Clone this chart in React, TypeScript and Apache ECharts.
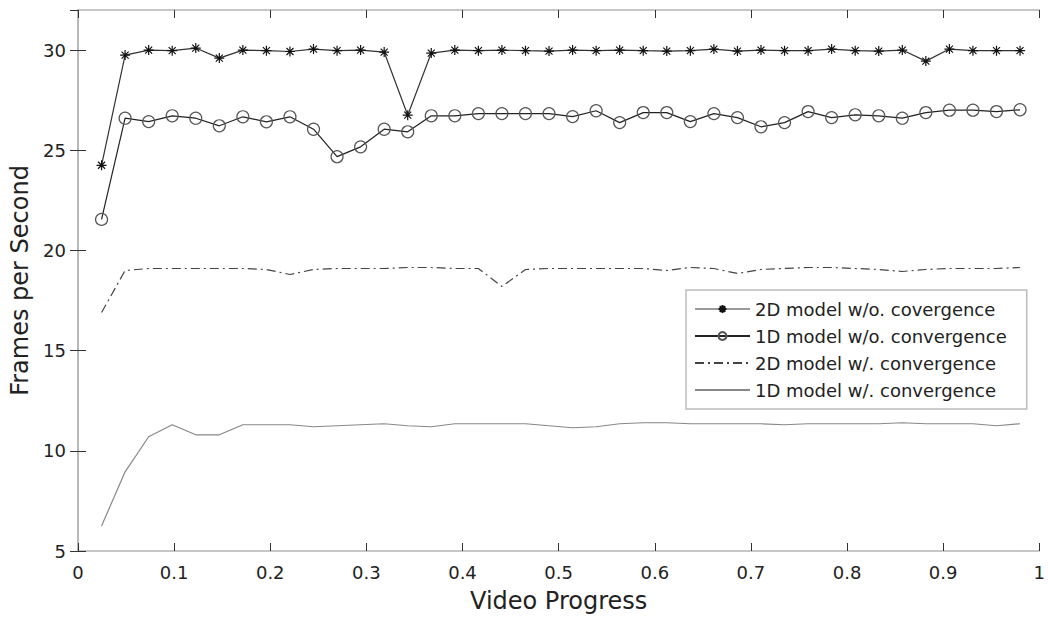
import React, { useEffect, useRef } from "react";
import * as echarts from "echarts";

const progress = [
  0.0245, 0.049, 0.0735, 0.098, 0.1225, 0.147, 0.1715, 0.196, 0.2205, 0.245,
  0.2695, 0.294, 0.3185, 0.343, 0.3675, 0.392, 0.4165, 0.441, 0.4655, 0.49,
  0.5145, 0.539, 0.5635, 0.588, 0.6125, 0.637, 0.6615, 0.686, 0.7105, 0.735,
  0.7595, 0.784, 0.8085, 0.833, 0.8575, 0.882, 0.9065, 0.931, 0.9555, 0.98,
];

const fps2dNoConv = [
  24.25, 29.75, 30.0, 29.97, 30.1, 29.6, 30.0, 29.97, 29.93, 30.05,
  29.97, 30.0, 29.9, 26.75, 29.85, 30.0, 29.97, 30.0, 29.97, 29.95,
  30.0, 29.97, 30.0, 29.97, 29.95, 29.97, 30.05, 29.95, 30.0, 29.97,
  29.97, 30.05, 29.97, 29.95, 30.0, 29.45, 30.05, 29.97, 29.97, 29.97,
];

const fps1dNoConv = [
  21.55, 26.6, 26.43, 26.72, 26.6, 26.22, 26.67, 26.42, 26.67, 26.05,
  24.68, 25.17, 26.05, 25.92, 26.72, 26.72, 26.83, 26.83, 26.83, 26.83,
  26.68, 26.97, 26.38, 26.88, 26.88, 26.43, 26.83, 26.63, 26.17, 26.38,
  26.93, 26.63, 26.77, 26.72, 26.6, 26.88, 27.0, 27.0, 26.93, 27.02,
];

const fps2dConv = [
  16.9, 19.0, 19.1, 19.1, 19.1, 19.1, 19.1, 19.05, 18.8, 19.05,
  19.1, 19.1, 19.1, 19.15, 19.15, 19.1, 19.1, 18.2, 19.05, 19.1,
  19.1, 19.1, 19.1, 19.1, 19.0, 19.15, 19.1, 18.85, 19.05, 19.1,
  19.15, 19.15, 19.1, 19.05, 18.95, 19.05, 19.1, 19.1, 19.1, 19.15,
];

const fps1dConv = [
  6.25, 8.95, 10.7, 11.3, 10.8, 10.8, 11.3, 11.3, 11.3, 11.2,
  11.25, 11.3, 11.35, 11.25, 11.2, 11.35, 11.35, 11.35, 11.35, 11.25,
  11.15, 11.2, 11.35, 11.4, 11.4, 11.35, 11.35, 11.35, 11.35, 11.3,
  11.35, 11.35, 11.35, 11.35, 11.4, 11.35, 11.35, 11.35, 11.25, 11.35,
];

const seriesNames = [
  "2D model w/o. covergence",
  "1D model w/o. convergence",
  "2D model w/. convergence",
  "1D model w/. convergence",
];

const pair = (ys: number[]) => progress.map((x, i) => [x, ys[i]]);

const FONT = "DejaVu Sans";
const STAR = "path://M5,0L5,10M0,5L10,5M1.5,1.5L8.5,8.5M1.5,8.5L8.5,1.5";

export default function App() {
  const ref = useRef<HTMLDivElement>(null);
  useEffect(() => {
    if (!ref.current) return;
    const chart = echarts.init(ref.current, undefined, { renderer: "svg" });
    const frameLine = { show: true, lineStyle: { color: "#b4b4b4", width: 1.5 } };
    const tick = { show: true, inside: true, length: 8, lineStyle: { color: "#333", width: 1 } };
    chart.setOption({
      animation: false,
      backgroundColor: "#ffffff",
      grid: { left: 76, width: 969, top: 10, height: 541, containLabel: false },
      xAxis: [
        {
          type: "value",
          min: 0,
          max: 1,
          interval: 0.1,
          position: "bottom",
          name: "Video Progress",
          nameLocation: "middle",
          nameGap: 38,
          nameTextStyle: { fontFamily: FONT, fontSize: 24, color: "#222" },
          axisLine: frameLine,
          axisTick: tick,
          axisLabel: { fontFamily: FONT, fontSize: 18, color: "#222", margin: 12 },
          splitLine: { show: false },
        },
        {
          type: "value",
          min: 0,
          max: 1,
          interval: 0.1,
          position: "top",
          axisLine: frameLine,
          axisTick: tick,
          axisLabel: { show: false },
          splitLine: { show: false },
        },
      ],
      yAxis: [
        {
          type: "value",
          min: 5,
          max: 32,
          interval: 5,
          position: "left",
          name: "Frames per Second",
          nameLocation: "middle",
          nameGap: 46,
          nameTextStyle: { fontFamily: FONT, fontSize: 24, color: "#222" },
          axisLine: frameLine,
          axisTick: tick,
          axisLabel: {
            fontFamily: FONT,
            fontSize: 18,
            color: "#222",
            margin: 12,
            showMaxLabel: false,
            formatter: (v: number) => (v % 5 === 0 ? String(v) : ""),
          },
          splitLine: { show: false },
        },
        {
          type: "value",
          min: 5,
          max: 32,
          interval: 5,
          position: "right",
          axisLine: frameLine,
          axisTick: tick,
          axisLabel: { show: false },
          splitLine: { show: false },
        },
      ],
      legend: {
        orient: "vertical",
        left: 686,
        top: 290,
        padding: [10, 20, 10, 8],
        itemWidth: 55,
        itemHeight: 10,
        itemGap: 9,
        backgroundColor: "#ffffff",
        borderColor: "#bcbcbc",
        borderWidth: 1.5,
        borderRadius: 0,
        textStyle: { fontFamily: FONT, fontSize: 18, color: "#222", lineHeight: 18 },
        data: [
          { name: seriesNames[0], lineStyle: { color: "#9a9a9a" } },
          { name: seriesNames[1] },
          { name: seriesNames[2], itemStyle: { opacity: 0 } },
          { name: seriesNames[3], itemStyle: { opacity: 0 } },
        ],
      },
      series: [
        {
          name: seriesNames[0],
          type: "line",
          data: pair(fps2dNoConv),
          symbol: STAR,
          symbolSize: 10,
          showAllSymbol: true,
          lineStyle: { color: "#333", width: 1.2 },
          itemStyle: { color: "#111", borderColor: "#111", borderWidth: 1.2 },
          z: 4,
        },
        {
          name: seriesNames[1],
          type: "line",
          data: pair(fps1dNoConv),
          symbol: "circle",
          symbolSize: 12,
          showAllSymbol: true,
          lineStyle: { color: "#222", width: 1.2 },
          itemStyle: { color: "transparent", borderColor: "#555", borderWidth: 1.2 },
          z: 3,
        },
        {
          name: seriesNames[2],
          type: "line",
          data: pair(fps2dConv),
          symbol: "none",
          lineStyle: { color: "#444", width: 1.2, type: [9, 4, 2, 4] },
          itemStyle: { color: "#444" },
          z: 2,
        },
        {
          name: seriesNames[3],
          type: "line",
          data: pair(fps1dConv),
          symbol: "none",
          lineStyle: { color: "#888", width: 1.2 },
          itemStyle: { color: "#888" },
          z: 2,
        },
      ],
    });
    return () => chart.dispose();
  }, []);
  return (
    <div
      ref={ref}
      style={{ position: "fixed", left: 0, top: 0, width: 1048, height: 622, background: "#fff" }}
    />
  );
}
